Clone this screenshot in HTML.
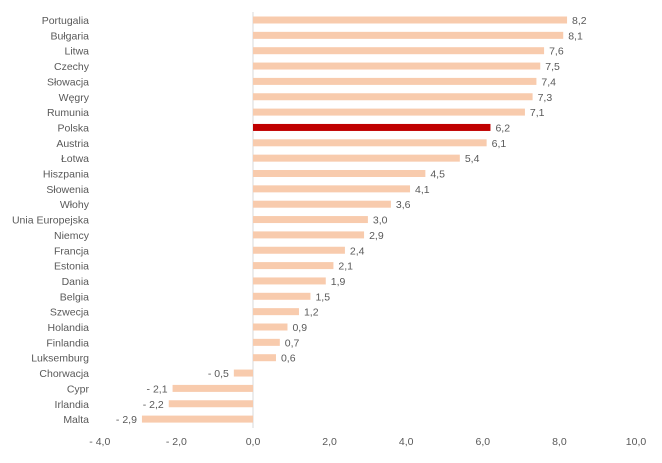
<!DOCTYPE html>
<html><head><meta charset="utf-8"><style>
body{margin:0;background:#fff;width:662px;height:458px;overflow:hidden;font-family:"Liberation Sans",sans-serif}
svg text{font-family:"Liberation Sans",sans-serif;font-size:10.5px;fill:#595959}
</style></head><body>
<svg id="chart" width="662" height="458" xmlns="http://www.w3.org/2000/svg"></svg>
<script>
const categories=["Portugalia","Bułgaria","Litwa","Czechy","Słowacja","Węgry","Rumunia","Polska","Austria","Łotwa","Hiszpania","Słowenia","Włohy","Unia Europejska","Niemcy","Francja","Estonia","Dania","Belgia","Szwecja","Holandia","Finlandia","Luksemburg","Chorwacja","Cypr","Irlandia","Malta"];
const values=[8.2,8.1,7.6,7.5,7.4,7.3,7.1,6.2,6.1,5.4,4.5,4.1,3.6,3.0,2.9,2.4,2.1,1.9,1.5,1.2,0.9,0.7,0.6,-0.5,-2.1,-2.2,-2.9];
const ticks=[-4,-2,0,2,4,6,8,10];
const highlight="Polska";
const NS="http://www.w3.org/2000/svg";
const svg=document.getElementById('chart');
const x0=253,ppu=38.3,y0=20,step=15.35,bh=7;
const X=v=>x0+v*ppu, Y=i=>y0+i*step;
const fmt=v=>(v<0?"- ":"")+Math.abs(v).toFixed(1).replace('.',',');
function mk(t,a){const e=document.createElementNS(NS,t);for(const k in a)e.setAttribute(k,a[k]);svg.appendChild(e);return e;}
const ax=mk('line',{x1:x0,x2:x0,y1:12,y2:428,stroke:'#d9d9d9','stroke-width':1});


categories.forEach((c,i)=>{
  const v=values[i],y=Y(i);
  const r=mk('rect',{x:Math.min(X(v),x0),y:y-bh/2,width:Math.abs(X(v)-x0),height:bh,fill:c===highlight?'#C00000':'#F8CBAD'});
  
  
  const l=mk('text',{x:89,y:y+4,'text-anchor':'end'});l.textContent=c;
  
  
  const vl=mk('text',{x:v>=0?X(v)+5:X(v)-5,y:y+4,'text-anchor':v>=0?'start':'end'});vl.textContent=fmt(v);
  
  
});
ticks.forEach(t=>{
  const e=mk('text',{x:X(t),y:445,'text-anchor':'middle'});e.textContent=fmt(t);
  
  
});
</script>
</body></html>
